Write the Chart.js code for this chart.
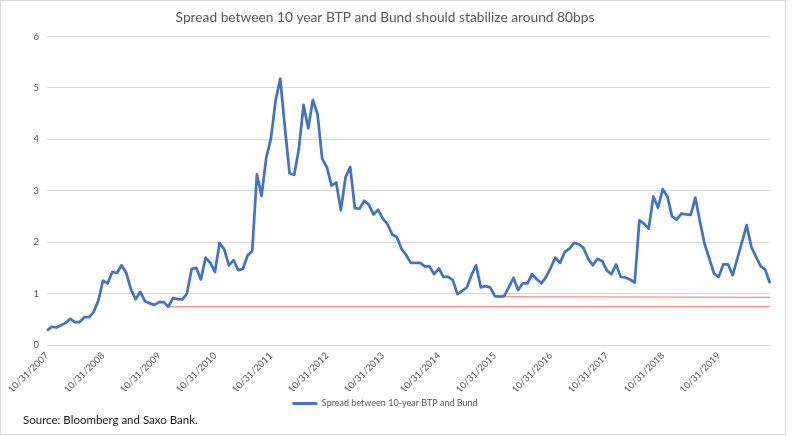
<!DOCTYPE html>
<html>
<head>
<meta charset="utf-8">
<script src="https://cdn.jsdelivr.net/npm/chart.js@4.4.0/dist/chart.umd.min.js"></script>
<style>
  html, body { margin: 0; padding: 0; background: #fff; }
  #wrap { position: relative; width: 792px; height: 436px; }
  #frame { position: absolute; left: 0; top: 0; width: 784px; height: 433px; border: 1px solid #d9d9d9; pointer-events: none; }
  #source { position: absolute; left: 23px; top: 413px; font-family: Lato, "Noto Sans", sans-serif; font-size: 11.5px; color: #1a1a1a; }
</style>
</head>
<body>
<div id="wrap">
  <canvas id="c" width="792" height="436"></canvas>
  <div id="frame"></div>
  <div id="source">Source: Bloomberg and Saxo Bank.</div>
</div>
<script>
// ---- data ----
const startYear = 2007, startMonth = 10;
const spread = [
  0.28, 0.355, 0.34, 0.385, 0.43, 0.51, 0.447, 0.447, 0.54, 0.54,
  0.64, 0.86, 1.25, 1.2, 1.42, 1.40, 1.55, 1.40, 1.08, 0.89,
  1.034, 0.853, 0.81, 0.78, 0.834, 0.834, 0.743, 0.91, 0.892, 0.885,
  1.0, 1.475, 1.5, 1.274, 1.7, 1.6, 1.42, 1.985, 1.86, 1.55,
  1.65, 1.455, 1.48, 1.74, 1.83, 3.32, 2.9, 3.64, 4.01, 4.75,
  5.18, 4.235, 3.34, 3.31, 3.815, 4.67, 4.215, 4.765, 4.49, 3.62,
  3.46, 3.10, 3.16, 2.62, 3.26, 3.46, 2.66, 2.65, 2.806, 2.73,
  2.54, 2.63, 2.457, 2.35, 2.15, 2.10, 1.87, 1.75, 1.597, 1.597,
  1.597, 1.53, 1.53, 1.377, 1.487, 1.325, 1.325, 1.26, 0.99, 1.05,
  1.12, 1.36, 1.55, 1.12, 1.145, 1.12, 0.95, 0.94, 0.95, 1.12,
  1.306, 1.07, 1.2, 1.2, 1.377, 1.28, 1.2, 1.325, 1.506, 1.7,
  1.597, 1.81, 1.875, 1.985, 1.96, 1.89, 1.68, 1.55, 1.675, 1.635,
  1.455, 1.377, 1.565, 1.325, 1.313, 1.274, 1.216, 2.425, 2.36, 2.263,
  2.89, 2.67, 3.03, 2.89, 2.5, 2.44, 2.555, 2.54, 2.53, 2.865,
  2.39, 1.96, 1.68, 1.39, 1.325, 1.57, 1.57, 1.357, 1.68, 2.0,
  2.33, 1.908, 1.715, 1.533, 1.46, 1.2
];
const nMonths = spread.length;
// red reference lines: [start index, end index] and [start value, end value]
const lowLineIdx = [26, nMonths - 1];
const lowLineVal = [0.745, 0.745];
const highLineIdx = [96, nMonths - 1];
const highLineVal = [0.94, 0.925];
const yTicks = [0, 1, 2, 3, 4, 5, 6];
const seriesName = 'Spread between 10-year BTP and Bund';
const titleText = 'Spread between 10 year BTP and Bund should stabilize around 80bps';

// month-end category labels
const categories = [];
for (let i = 0; i < nMonths; i++) {
  const m0 = startMonth - 1 + i;
  const y = startYear + Math.floor(m0 / 12);
  const m = (m0 % 12) + 1;
  const d = new Date(y, m, 0).getDate();
  categories.push(m + '/' + d + '/' + y);
}
function sparse(idx, vals) {
  const arr = new Array(nMonths).fill(null);
  arr[idx[0]] = vals[0];
  arr[idx[1]] = vals[1];
  return arr;
}

const grey = '#595959';
const fontFam = 'Lato, "Noto Sans", sans-serif';

new Chart(document.getElementById('c'), {
  type: 'line',
  data: {
    labels: categories,
    datasets: [
      { label: seriesName, data: spread, borderColor: '#4472C4', backgroundColor: '#4472C4',
        borderWidth: 2.75, pointRadius: 0, tension: 0, borderJoinStyle: 'round', order: 1 },
      { label: 'low', data: sparse(lowLineIdx, lowLineVal), borderColor: 'rgba(255,130,130,0.9)',
        borderWidth: 1.3, pointRadius: 0, spanGaps: true, order: 2 },
      { label: 'high', data: sparse(highLineIdx, highLineVal), borderColor: 'rgba(255,130,130,0.9)',
        borderWidth: 1.3, pointRadius: 0, spanGaps: true, order: 2 }
    ]
  },
  options: {
    responsive: false,
    animation: false,
    layout: { padding: { left: 0, right: 22, top: 0, bottom: 18 } },
    plugins: {
      title: { display: true, text: titleText, color: grey,
        font: { family: fontFam, size: 13.75, weight: 'normal' }, padding: { top: 9, bottom: 11 } },
      legend: { display: true, position: 'bottom',
        labels: { color: grey, font: { family: fontFam, size: 9 }, boxWidth: 25, boxHeight: 3, padding: 8,
          generateLabels: () => [{ text: seriesName, fillStyle: '#4472C4', strokeStyle: '#4472C4', lineWidth: 0, hidden: false, datasetIndex: 0, fontColor: grey }] } },
      tooltip: { enabled: false }
    },
    scales: {
      x: {
        grid: { display: false, drawTicks: false },
        border: { display: false },
        ticks: { autoSkip: false, minRotation: 45, maxRotation: 45, padding: 5, color: grey,
          font: { family: fontFam, size: 9.5 },
          callback: function(v, i) { const l = categories[i]; return l.indexOf('10/31/') === 0 ? l : ''; } },
        afterFit: s => { s.height = 46; }
      },
      y: {
        min: 0, max: 6,
        afterBuildTicks: s => { s.ticks = yTicks.map(v => ({ value: v })); },
        grid: { color: '#d9d9d9', lineWidth: 1, drawTicks: false },
        border: { display: false },
        ticks: { padding: 8, color: grey, font: { family: fontFam, size: 9.5 } },
        afterFit: s => { s.width = 47; }
      }
    }
  }
});
</script>
</body>
</html>
